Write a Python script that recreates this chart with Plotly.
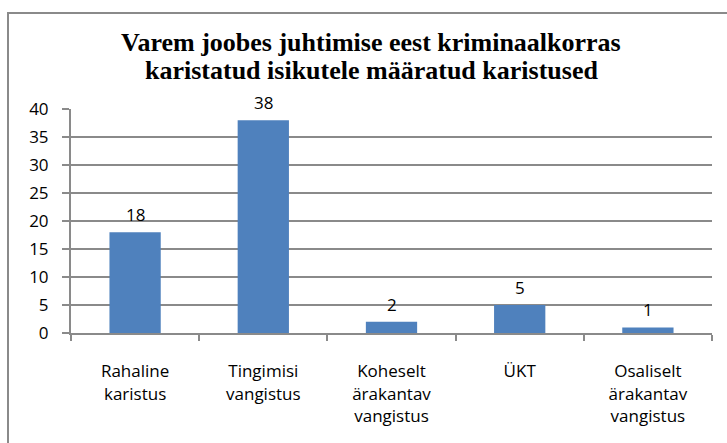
import plotly.graph_objects as go

# Karistuste liigid ja nende arv
categories = [
    "Rahaline<br>karistus",
    "Tingimisi<br>vangistus",
    "Koheselt<br>ärakantav<br>vangistus",
    "ÜKT",
    "Osaliselt<br>ärakantav<br>vangistus",
]
counts = [18, 38, 2, 5, 1]
y_ticks = [0, 5, 10, 15, 20, 25, 30, 35, 40]

title_lines = [
    "Varem joobes juhtimise eest kriminaalkorras",
    "karistatud isikutele määratud karistused",
]

W, H = 727, 443
ML, MR, MT, MB = 71, 15, 109, 110
PW, PH = W - ML - MR, H - MT - MB

BAR = "#4F81BD"
GRID = "#8A8A8A"
FONT = "Open Sans"
FS = 17


def px_to_paper_x(px):
    return (px - ML) / PW


def px_to_paper_y(py):
    return (H - MB - py) / PH


fig = go.Figure()
fig.add_trace(go.Bar(
    x=categories,
    y=counts,
    marker=dict(color=BAR, line=dict(width=0)),
    width=0.4,
    hoverinfo="skip",
))

# Väärtuste sildid tulpade kohal
for c, v in zip(categories, counts):
    fig.add_annotation(
        x=c, y=v, text=str(v), showarrow=False,
        yanchor="bottom", yshift=4,
        font=dict(family=FONT, size=FS, color="#000000"),
    )

# Kaherealine pealkiri
for line, ypx in zip(title_lines, [42, 70]):
    fig.add_annotation(
        text=f"<b>{line}</b>", showarrow=False,
        xref="paper", yref="paper",
        x=px_to_paper_x(371), y=px_to_paper_y(ypx),
        xanchor="center", yanchor="middle",
        font=dict(family="Liberation Serif", size=26, color="#000000"),
    )

# Diagrammi ala raam (vasak ja ülemine serv)
fig.add_shape(
    type="rect", xref="paper", yref="paper",
    x0=px_to_paper_x(8), x1=px_to_paper_x(W + 20),
    y0=px_to_paper_y(H + 20), y1=px_to_paper_y(13),
    line=dict(color=GRID, width=2), fillcolor="rgba(0,0,0,0)",
    layer="above",
)

fig.update_layout(
    width=W, height=H,
    margin=dict(l=ML, r=MR, t=MT, b=MB),
    paper_bgcolor="white",
    plot_bgcolor="white",
    showlegend=False,
    font=dict(family=FONT, size=FS, color="#000000"),
)

fig.update_xaxes(
    type="category",
    showgrid=False,
    showline=True, linecolor=GRID, linewidth=2,
    ticks="outside", tickson="boundaries", ticklen=6,
    tickcolor=GRID, tickwidth=2,
    ticklabelstandoff=22,
    tickfont=dict(family=FONT, size=FS, color="#000000"),
)

fig.update_yaxes(
    range=[0, 40],
    tickvals=y_ticks,
    showgrid=True, gridcolor=GRID, gridwidth=2,
    showline=True, linecolor=GRID, linewidth=2,
    ticks="outside", ticklen=7, tickcolor=GRID, tickwidth=2,
    ticklabelstandoff=10,
    zeroline=False,
    tickfont=dict(family=FONT, size=FS, color="#000000"),
)

fig.write_html("out.html")
